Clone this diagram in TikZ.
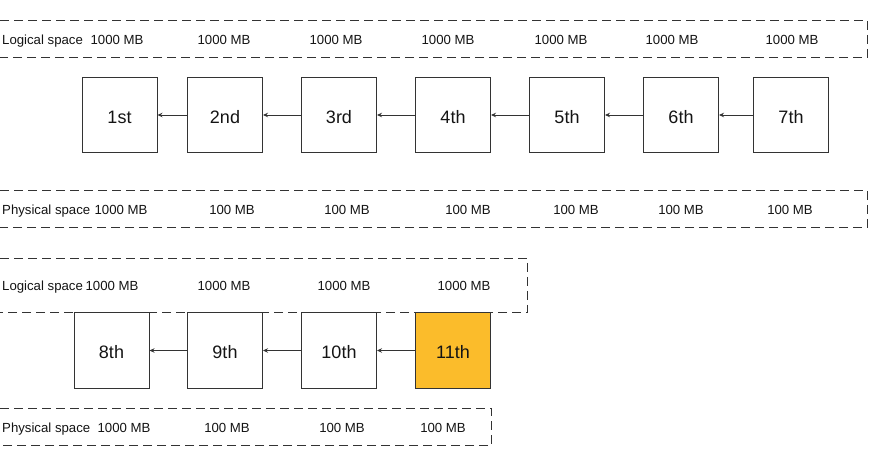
\documentclass[tikz,border=0pt]{standalone}
\usepackage{fontspec}
\setmainfont{Liberation Sans}
\usetikzlibrary{arrows.meta}
\definecolor{boxline}{HTML}{333333}
\definecolor{txt}{HTML}{141414}
\definecolor{hl}{HTML}{FBBC2B}
\begin{document}
\begin{tikzpicture}[x=1pt,y=-1pt,
  blk/.style={draw=boxline,line width=1pt,minimum width=75pt,minimum height=75pt,inner sep=0pt,
    text height=16.6pt,text depth=0pt,font=\fontsize{18}{20}\selectfont,text=txt},
  lbl/.style={font=\fontsize{13.2}{15}\selectfont,text=txt,inner sep=0pt,anchor=base},
  band/.style={draw=boxline,line width=0.9pt,dash pattern=on 9pt off 5pt},
  link/.style={draw=boxline,line width=0.9pt,-{Stealth[length=5pt,width=4.5pt]}}]
\useasboundingbox (0,0) rectangle (871,449);
% bands
\draw[band] (0,20.5) -- (867.5,20.5) -- (867.5,57.5) -- (0,57.5);
\draw[band] (0,190.5) -- (867.5,190.5) -- (867.5,227.5) -- (0,227.5);
\draw[band] (0,258.5) -- (527.5,258.5) -- (527.5,312.5) -- (0,312.5);
\draw[band] (0,408.5) -- (491.5,408.5) -- (491.5,445.5) -- (0,445.5);
% row 1 blocks
\node[blk] (b1) at (119.5,115) {1st};
\node[blk] (b2) at (225,115) {2nd};
\node[blk] (b3) at (339,115) {3rd};
\node[blk] (b4) at (453,115) {4th};
\node[blk] (b5) at (567,115) {5th};
\node[blk] (b6) at (681,115) {6th};
\node[blk] (b7) at (791,115) {7th};
\draw[link] (b2) -- (b1);
\draw[link] (b3) -- (b2);
\draw[link] (b4) -- (b3);
\draw[link] (b5) -- (b4);
\draw[link] (b6) -- (b5);
\draw[link] (b7) -- (b6);
% row 2 blocks
\node[blk] (b8) at (111.5,350.5) {8th};
\node[blk] (b9) at (225,350.5) {9th};
\node[blk] (b10) at (339,350.5) {10th};
\node[blk,fill=hl] (b11) at (453,350.5) {11th};
\draw[link] (b9) -- (b8);
\draw[link] (b10) -- (b9);
\draw[link] (b11) -- (b10);
% row 1 logical labels
\node[lbl,anchor=base west] (l1) at (2,45) {Logical space};
\node[lbl] (l1a) at (117,45) {1000 MB};
\node[lbl] (l1b) at (224,45) {1000 MB};
\node[lbl] (l1c) at (336,45) {1000 MB};
\node[lbl] (l1d) at (448,45) {1000 MB};
\node[lbl] (l1e) at (561,45) {1000 MB};
\node[lbl] (l1f) at (672,45) {1000 MB};
\node[lbl] (l1g) at (792,45) {1000 MB};
% row 1 physical labels
\node[lbl,anchor=base west] (p1) at (2,215) {Physical space};
\node[lbl] (p1a) at (121,215) {1000 MB};
\node[lbl] (p1b) at (232,215) {100 MB};
\node[lbl] (p1c) at (347,215) {100 MB};
\node[lbl] (p1d) at (468,215) {100 MB};
\node[lbl] (p1e) at (576,215) {100 MB};
\node[lbl] (p1f) at (681,215) {100 MB};
\node[lbl] (p1g) at (790,215) {100 MB};
% row 2 logical labels
\node[lbl,anchor=base west] (l2) at (2,291) {Logical space};
\node[lbl] (l2a) at (112,291) {1000 MB};
\node[lbl] (l2b) at (224,291) {1000 MB};
\node[lbl] (l2c) at (344,291) {1000 MB};
\node[lbl] (l2d) at (464,291) {1000 MB};
% row 2 physical labels
\node[lbl,anchor=base west] (p2) at (2,432) {Physical space};
\node[lbl] (p2a) at (124,432) {1000 MB};
\node[lbl] (p2b) at (227,432) {100 MB};
\node[lbl] (p2c) at (342,432) {100 MB};
\node[lbl] (p2d) at (443,432) {100 MB};
\end{tikzpicture}
\end{document}
